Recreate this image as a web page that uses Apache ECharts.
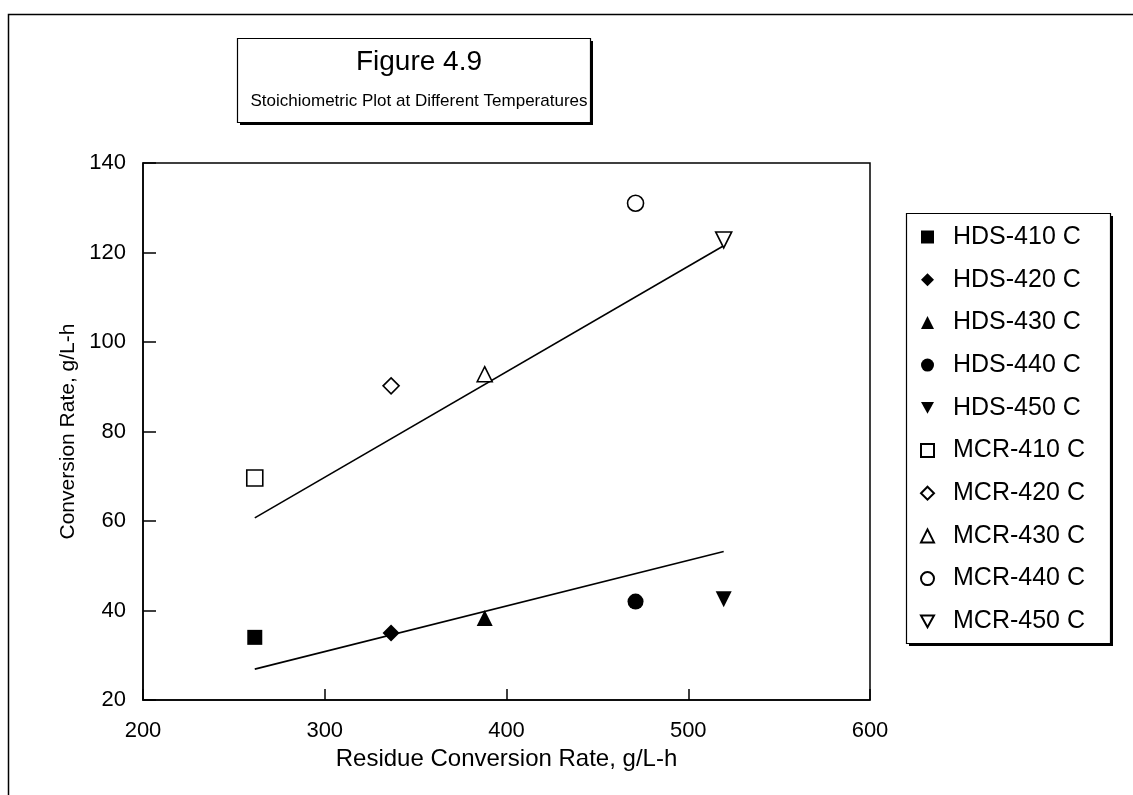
<!DOCTYPE html>
<html>
<head>
<meta charset="utf-8">
<title>Figure 4.9</title>
<script src="https://cdn.jsdelivr.net/npm/echarts@6/dist/echarts.min.js"></script>
<style>
  html, body { margin: 0; padding: 0; background: #fff; }
  #chart { width: 1133px; height: 795px; }
</style>
</head>
<body>
<div id="chart"></div>
<script>
// Residue conversion rate at each reactor temperature (g/L-h)
const residueRate = [261.5, 336.5, 388, 471, 519.5];
const temperatures = ['410', '420', '430', '440', '450'];
// Conversion rates (g/L-h)
const hdsRate = [34, 35, 38.3, 42, 42.5];
const mcrRate = [69.6, 90.2, 92.8, 131, 122.8];
// Stoichiometric lines (end points)
const mcrLine = [[261.5, 60.7], [519.5, 121.5]];
const hdsLine = [[261.5, 26.9], [519.5, 53.2]];
// Axis ticks
const xTicks = [200, 300, 400, 500, 600];
const yTicks = [20, 40, 60, 80, 100, 120, 140];

const FONT = '"Liberation Sans", Arial, sans-serif';
const DOWN_TRIANGLE = 'path://M0,0L20,0L10,18Z';
// marker shape, rotation, size for each temperature
const hdsSymbols = [['rect', 0, 15], ['diamond', 0, 17], ['triangle', 0, 16], ['circle', 0, 16], ['triangle', 180, 16]];
const mcrSymbols = [['rect', 0, 16], ['diamond', 0, 16], ['triangle', 0, 15], ['circle', 0, 16], ['triangle', 180, 16]];

const series = [];
const legendItems = [];
function addGroup(prefix, values, symbols, filled) {
  temperatures.forEach((t, i) => {
    const name = prefix + '-' + t + ' C';
    const [sym, rot, size] = symbols[i];
    legendItems.push({ name, icon: rot === 180 ? DOWN_TRIANGLE : sym });
    series.push({
      name, type: 'scatter',
      symbol: sym, symbolRotate: rot, symbolSize: size,
      itemStyle: filled
        ? { color: '#000', borderColor: '#000', borderWidth: 0, opacity: 1 }
        : { color: '#fff', borderColor: '#000', borderWidth: 1.6, opacity: 1 },
      data: [[residueRate[i], values[i]]], z: 5
    });
  });
}
addGroup('HDS', hdsRate, hdsSymbols, true);
addGroup('MCR', mcrRate, mcrSymbols, false);

[mcrLine, hdsLine].forEach((pts, k) => {
  series.push({
    name: k === 0 ? 'mcr-fit' : 'hds-fit', type: 'line', data: pts,
    showSymbol: false, symbol: 'none', silent: true,
    lineStyle: { color: '#000', width: 1.6 }, z: 3
  });
});

const chart = echarts.init(document.getElementById('chart'), null, { renderer: 'canvas' });
chart.setOption({
  animation: false,
  backgroundColor: '#fff',
  textStyle: { fontFamily: FONT, color: '#000' },
  title: {
    text: 'Figure 4.9',
    subtext: 'Stoichiometric Plot at Different Temperatures',
    left: 414, top: 43, textAlign: 'center',
    itemGap: 17,
    textStyle: { fontFamily: FONT, fontSize: 28, fontWeight: 'normal', color: '#000' },
    subtextStyle: { fontFamily: FONT, fontSize: 17, color: '#000' }
  },
  graphic: [
    // outer frame
    { type: 'rect', shape: { x: 8.5, y: 14.5, width: 1300, height: 1000 },
      style: { fill: 'none', stroke: '#000', lineWidth: 1.5 }, silent: true, z: 0 },
    // title box with drop shadow
    { type: 'rect', shape: { x: 240, y: 41, width: 353, height: 84 },
      style: { fill: '#000' }, silent: true, z: 0 },
    { type: 'rect', shape: { x: 237.5, y: 38.5, width: 353, height: 84 },
      style: { fill: '#fff', stroke: '#000', lineWidth: 1.2 }, silent: true, z: 1 },
    // legend box with drop shadow
    { type: 'rect', shape: { x: 909, y: 216, width: 204, height: 430 },
      style: { fill: '#000' }, silent: true, z: 0 },
    { type: 'rect', shape: { x: 906.5, y: 213.5, width: 204, height: 430 },
      style: { fill: '#fff', stroke: '#000', lineWidth: 1.2 }, silent: true, z: 1 }
  ],
  legend: {
    data: legendItems,
    orient: 'vertical',
    left: 920, top: 224,
    padding: 0,
    itemWidth: 13, itemHeight: 13,
    itemGap: 16.7,
    textStyle: { fontFamily: FONT, fontSize: 25, lineHeight: 26, color: '#000', padding: [0, 0, 0, 14] },
    selectedMode: false,
    z: 10
  },
  grid: {
    left: 143, top: 163, right: 263, bottom: 95,
    show: true, borderColor: '#000', borderWidth: 1.5, backgroundColor: 'transparent'
  },
  xAxis: {
    type: 'value', min: xTicks[0], max: xTicks[xTicks.length - 1], interval: 100,
    name: 'Residue Conversion Rate, g/L-h', nameLocation: 'middle', nameGap: 43,
    nameTextStyle: { fontFamily: FONT, fontSize: 24, color: '#000' },
    axisLine: { show: true, lineStyle: { color: '#000', width: 1.5 } },
    axisTick: { show: true, inside: true, length: 11, lineStyle: { color: '#000', width: 1.5 } },
    axisLabel: { fontFamily: FONT, fontSize: 22, color: '#000', margin: 20 },
    splitLine: { show: false }
  },
  yAxis: {
    type: 'value', min: yTicks[0], max: yTicks[yTicks.length - 1], interval: 20,
    name: 'Conversion Rate, g/L-h', nameLocation: 'middle', nameGap: 48, nameRotate: 90,
    nameTextStyle: { fontFamily: FONT, fontSize: 21, color: '#000' },
    axisLine: { show: true, lineStyle: { color: '#000', width: 1.5 } },
    axisTick: { show: true, inside: true, length: 13, lineStyle: { color: '#000', width: 1.5 } },
    axisLabel: { fontFamily: FONT, fontSize: 22, color: '#000', margin: 17 },
    splitLine: { show: false }
  },
  series
});
</script>
</body>
</html>
